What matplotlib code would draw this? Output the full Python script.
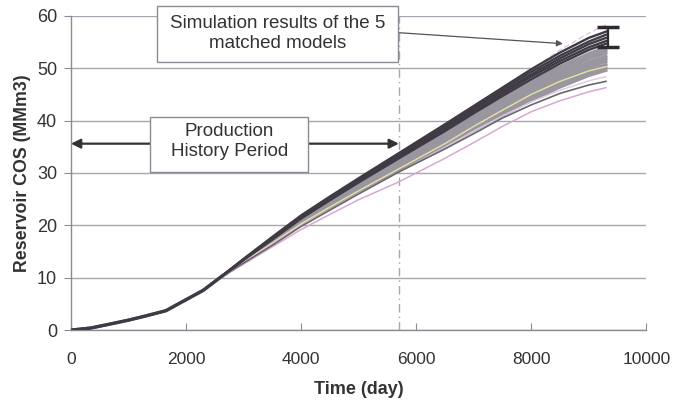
import matplotlib as mpl

mpl.use("Agg")
import matplotlib.pyplot as plt
from matplotlib.patches import Rectangle

# shared history part (days, MMm3)
HIST_T = [0, 350, 700, 1000, 1300, 1650, 2000, 2300, 2600]
HIST_Y = [0.0, 0.4, 1.2, 1.9, 2.7, 3.7, 5.8, 7.6, 10.1]

# forecast part, one list per model
FC_T = [3000, 3500, 4000, 4500, 5000, 5700, 6500, 7000, 7500, 8000, 8500, 9000, 9300]

MATCHED = [
    [13.6, 17.8, 21.9, 25.5, 29.0, 33.8, 39.3, 42.8, 46.3, 49.8, 53.0, 55.8, 57.0],
    [13.5, 17.6, 21.7, 25.3, 28.8, 33.5, 38.9, 42.4, 45.9, 49.3, 52.4, 55.1, 56.4],
    [13.5, 17.5, 21.6, 25.1, 28.6, 33.3, 38.6, 42.1, 45.5, 48.8, 51.9, 54.6, 55.8],
    [13.4, 17.4, 21.4, 24.9, 28.4, 33.0, 38.3, 41.7, 45.1, 48.4, 51.4, 54.0, 55.2],
    [13.4, 17.3, 21.3, 24.8, 28.2, 32.8, 38.0, 41.4, 44.7, 47.9, 50.9, 53.5, 54.7],
]

OTHERS_GRAY = [
    [13.3, 17.2, 21.1, 24.6, 28.0, 32.5, 37.6, 40.9, 44.2, 47.4, 50.3, 52.8, 54.0],
    [13.3, 17.1, 21.0, 24.4, 27.8, 32.3, 37.3, 40.6, 43.8, 46.9, 49.8, 52.3, 53.4],
    [13.2, 17.0, 20.9, 24.3, 27.6, 32.0, 37.0, 40.2, 43.4, 46.5, 49.3, 51.8, 52.9],
    [13.2, 16.9, 20.8, 24.1, 27.4, 31.8, 36.7, 39.9, 43.0, 46.0, 48.8, 51.2, 52.3],
    [13.1, 16.8, 20.6, 23.9, 27.2, 31.5, 36.3, 39.5, 42.6, 45.6, 48.3, 50.7, 51.8],
    [13.1, 16.7, 20.5, 23.8, 27.0, 31.3, 36.0, 39.1, 42.2, 45.1, 47.8, 50.2, 51.3],
    [13.0, 16.6, 20.4, 23.6, 26.8, 31.0, 35.7, 38.8, 41.8, 44.7, 47.4, 49.7, 50.7],
    [13.0, 16.5, 20.2, 23.4, 26.6, 30.8, 35.4, 38.4, 41.4, 44.2, 46.9, 49.1, 50.1],
    [12.9, 16.4, 20.1, 23.3, 26.4, 30.5, 35.1, 38.1, 41.0, 43.8, 46.4, 48.6, 49.6],
]

LONE_DARK = [12.8, 16.2, 19.8, 22.9, 26.0, 30.2, 34.6, 37.5, 40.5, 43.0, 45.2, 46.8, 47.5]
PINK_LOW = [12.6, 15.9, 19.2, 22.1, 24.9, 28.3, 32.8, 35.8, 38.9, 41.7, 43.8, 45.5, 46.3]
PINK_MID = [12.9, 16.4, 20.0, 23.0, 26.1, 30.2, 34.9, 38.0, 40.9, 43.6, 45.8, 47.6, 48.4]
PINK_TOP = [13.5, 17.5, 21.5, 25.0, 28.5, 33.0, 38.5, 42.2, 45.9, 49.7, 53.5, 56.7, 58.3]
YELLOW = [13.0, 16.6, 20.3, 23.5, 26.6, 30.8, 35.6, 38.9, 42.0, 45.0, 47.5, 49.5, 50.3]

HISTORY_END = 5700
ERR_X = 9330
ERR_Y = 56.0
ERR_HALF = 1.85
ARROW_Y = 35.6

TEXT = "#333333"
EDGE = "#8c8a92"

mpl.rcParams["font.family"] = ["Liberation Sans", "DejaVu Sans"]

fig = plt.figure(figsize=(6.76, 4.08), dpi=100)
ax = fig.add_axes([0.105, 0.191, 0.851, 0.770])

t_all = HIST_T + FC_T


def draw(vals, color, lw, ls="-", z=2):
    ax.plot(t_all, HIST_Y + vals, color=color, lw=lw, ls=ls, zorder=z)


for v in OTHERS_GRAY:
    draw(v, "#9a96a0", 2.2, z=2)
draw(PINK_TOP, "#e3c6e0", 1.0, ls=(0, (4, 2)), z=2)
draw(YELLOW, "#e6e2a0", 1.0, z=2)
draw(PINK_MID, "#e0c8e0", 1.0, z=2)
draw(PINK_LOW, "#d7a8d2", 1.1, z=2)
draw(LONE_DARK, "#6a6670", 1.2, z=3)
for v in MATCHED:
    draw(v, "#3f3a44", 1.7, z=4)

ax.errorbar(ERR_X, ERR_Y, yerr=ERR_HALF, fmt="none", ecolor="#2e2a30",
            elinewidth=1.6, capsize=8, capthick=2.5, zorder=5)

ax.set_xlim(0, 10000)
ax.set_ylim(0, 60)
ax.set_xticks(range(0, 10001, 2000))
ax.set_yticks(range(0, 61, 10))
ax.yaxis.grid(True, color="#a8a6ae", lw=1.0)
ax.set_axisbelow(True)
ax.axvline(HISTORY_END, color="#a8a6ae", lw=1.0, ls=(0, (6, 3, 1, 3)), zorder=1)

for side in ("top", "right"):
    ax.spines[side].set_visible(False)
for side in ("left", "bottom"):
    ax.spines[side].set_color(EDGE)
    ax.spines[side].set_linewidth(1.0)
ax.tick_params(axis="x", direction="in", length=5, color=EDGE,
               labelsize=12.5, pad=16, labelcolor=TEXT)
ax.tick_params(axis="y", direction="out", length=5, color=EDGE,
               labelsize=13, pad=5, labelcolor=TEXT)

ax.set_xlabel("Time (day)", fontsize=13, fontweight="bold", color=TEXT, labelpad=10)
ax.set_ylabel("Reservoir COS (MMm3)", fontsize=12.8, fontweight="bold", color=TEXT, labelpad=4)

# production history arrow and its box
ax.annotate("", xy=(0, ARROW_Y), xytext=(HISTORY_END, ARROW_Y),
            arrowprops=dict(arrowstyle="<|-|>", color=TEXT, lw=1.6,
                            shrinkA=0, shrinkB=0, mutation_scale=14), zorder=3)
ax.add_patch(Rectangle((1370, 30.2), 2750, 10.5, fc="white", ec=EDGE, lw=1.0, zorder=6))
ax.text(2750, 36.0, "Production\nHistory Period", ha="center", va="center",
        fontsize=13.5, color=TEXT, linespacing=1.25, zorder=7)

# callout for the matched models
ax.annotate("", xy=(8550, 54.7), xytext=(5690, 56.8),
            arrowprops=dict(arrowstyle="-|>", color="#55525a", lw=0.9,
                            shrinkA=0, shrinkB=0, mutation_scale=9), zorder=6)
ax.add_patch(Rectangle((1500, 51.2), 4190, 10.6, fc="white", ec=EDGE, lw=1.0,
                       zorder=6, clip_on=False))
ax.text(3600, 56.7, "Simulation results of the 5\nmatched models", ha="center", va="center",
        fontsize=13.5, color=TEXT, linespacing=1.25, zorder=7)

fig.savefig("out.png", dpi=100, facecolor="white")
